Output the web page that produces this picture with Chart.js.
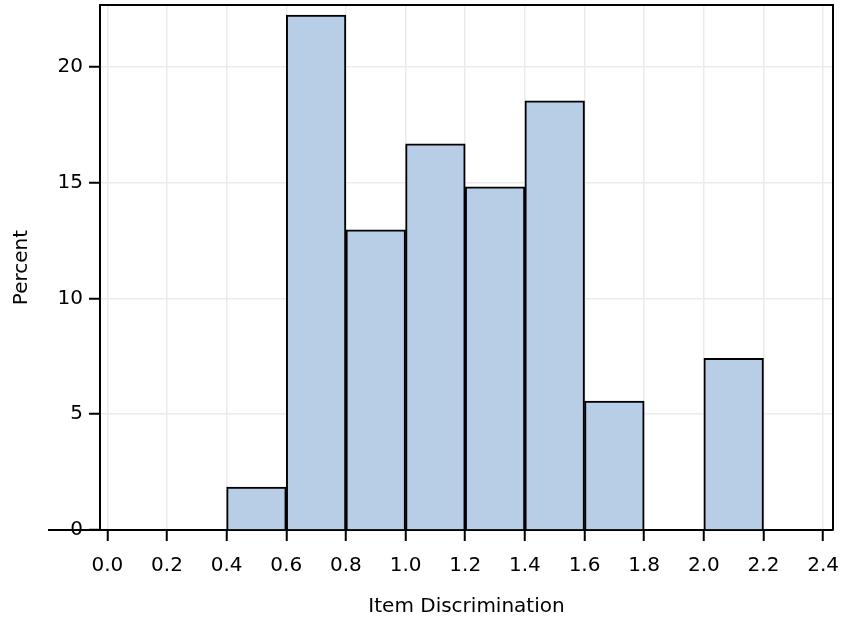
<!DOCTYPE html>
<html>
<head>
<meta charset="utf-8">
<script src="https://cdn.jsdelivr.net/npm/chart.js@4"></script>
<style>
  html, body { margin: 0; padding: 0; background: #fff; }
  #wrap { width: 845px; height: 624px; }
</style>
</head>
<body>
<div id="wrap"><canvas id="histChart" width="845" height="624"></canvas></div>
<script>
// histogram bins (left edge) and percent of items in each
const binStarts = [0.4, 0.6, 0.8, 1.0, 1.2, 1.4, 1.6, 2.0];
const percents = [1.85, 22.22, 12.96, 16.67, 14.81, 18.52, 5.56, 7.41];
const binWidth = 0.2;
const xTicks = [0.0, 0.2, 0.4, 0.6, 0.8, 1.0, 1.2, 1.4, 1.6, 1.8, 2.0, 2.2, 2.4];
const yTicks = [0, 5, 10, 15, 20];

const FONT = "'DejaVu Sans', Verdana, sans-serif";

// top + right frame, plus the little baseline stub sticking out left
const framePlugin = {
  id: "frame",
  afterDraw(chart) {
    const { ctx, chartArea: a, scales } = chart;
    const y0 = scales.y.getPixelForValue(0);
    ctx.save();
    ctx.strokeStyle = "#000";
    ctx.lineWidth = 2;
    ctx.beginPath();
    ctx.moveTo(a.left, a.top);
    ctx.lineTo(a.right, a.top);
    ctx.lineTo(a.right, a.bottom);
    ctx.moveTo(48, y0);
    ctx.lineTo(a.left, y0);
    ctx.stroke();
    ctx.restore();
  },
};

const histCtx = document.getElementById("histChart");

new Chart(histCtx, {
  type: "bar",
  data: {
    datasets: [
      {
        data: binStarts.map((b, i) => ({ x: b + binWidth / 2, y: percents[i] })),
        backgroundColor: "#b8cde6",
        borderColor: "#000",
        borderWidth: 2,
        barPercentage: 1,
        categoryPercentage: 1,
      },
    ],
  },
  options: {
    responsive: false,
    animation: false,
    layout: { padding: { top: 5, right: 12, left: 0, bottom: 0 } },
    scales: {
      x: {
        type: "linear",
        offset: false,
        min: -0.0245,
        max: 2.433,
        afterFit: (s) => {
          s.height = 94;
          s.paddingLeft = 0;
          s.paddingRight = 0;
        },
        afterBuildTicks: (s) => { s.ticks = xTicks.map((v) => ({ value: v })); },
        ticks: {
          includeBounds: false,
          padding: 13,
          color: "#000",
          font: { family: FONT, size: 20 },
          callback: (v) => Number(v).toFixed(1),
        },
        grid: {
          offset: false,
          color: "#ebebeb",
          lineWidth: 1.5,
          tickColor: "#000",
          tickLength: 11,
          tickWidth: 2,
        },
        border: { color: "#000", width: 2 },
        title: {
          display: true,
          text: "Item Discrimination",
          color: "#000",
          font: { family: FONT, size: 20 },
          padding: { top: 0, bottom: 5 },
        },
      },
      y: {
        min: 0,
        max: 22.66,
        afterFit: (s) => {
          s.width = 100;
          s.paddingTop = 0;
          s.paddingBottom = 0;
        },
        afterBuildTicks: (s) => { s.ticks = yTicks.map((v) => ({ value: v })); },
        ticks: {
          includeBounds: false,
          padding: 6,
          color: "#000",
          font: { family: FONT, size: 20 },
        },
        grid: {
          color: "#ebebeb",
          lineWidth: 1.5,
          tickColor: "#000",
          tickLength: 11,
          tickWidth: 2,
        },
        border: { color: "#000", width: 2 },
        title: {
          display: true,
          text: "Percent",
          color: "#000",
          font: { family: FONT, size: 20 },
          padding: { top: 10, bottom: 0 },
        },
      },
    },
    plugins: {
      legend: { display: false },
      tooltip: { enabled: false },
    },
  },
  plugins: [framePlugin],
});
</script>
</body>
</html>
